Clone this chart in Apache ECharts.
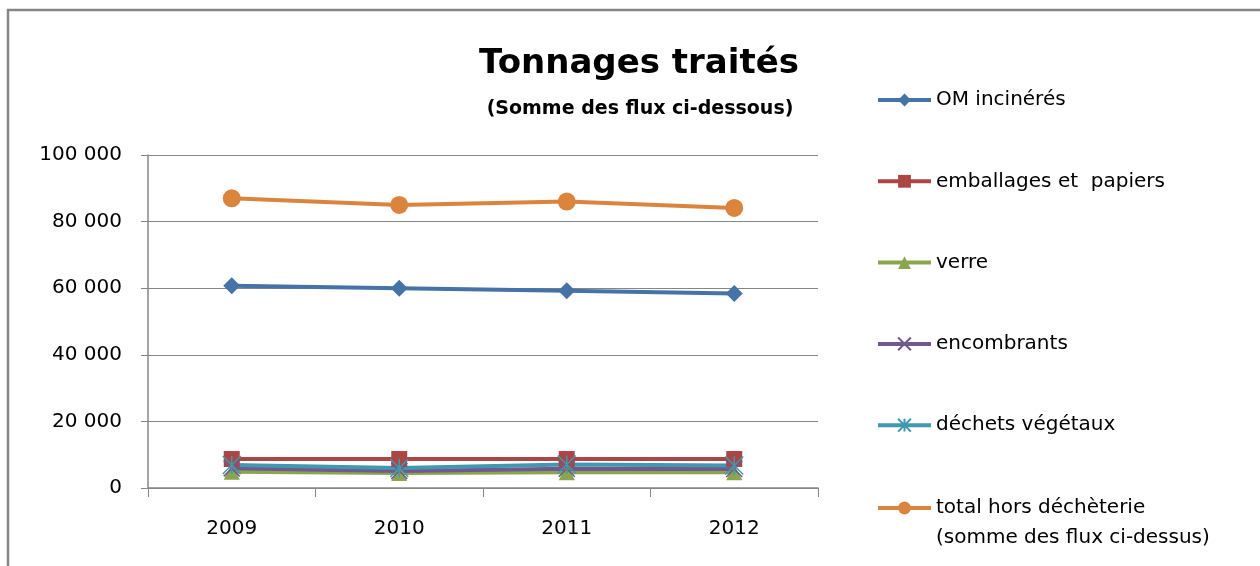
<!DOCTYPE html>
<html>
<head>
<meta charset="utf-8">
<script src="https://cdn.jsdelivr.net/npm/echarts@6/dist/echarts.min.js"></script>
<style>html,body{margin:0;padding:0;background:#fff;}#c{width:1260px;height:566px;}</style>
</head>
<body>
<div id="c"></div>
<script>
var years = ['2009', '2010', '2011', '2012'];
var omIncineres = [60700, 60000, 59200, 58400];
var emballagesPapiers = [8700, 8700, 8700, 8700];
var verre = [4900, 4500, 4750, 4700];
var encombrants = [5900, 5100, 5800, 5700];
var dechetsVegetaux = [6900, 6000, 7050, 6750];
var totalHorsDecheterie = [87000, 85000, 86000, 84100];
var yTicks = [0, 20000, 40000, 60000, 80000, 100000];

var FONT = 'DejaVu Sans';
function fmt(v) { return String(v).replace(/\B(?=(\d{3})+(?!\d))/g, ' '); }

var names = ['OM incinérés', 'emballages et  papiers', 'verre', 'encombrants', 'déchets végétaux', 'total hors déchèterie (somme des flux ci-dessus)'];
var colors = ['#4572A7', '#AA4643', '#89A54E', '#71588F', '#4198AF', '#DB843D'];
var symbols = ['diamond', 'rect', 'triangle',
  'path://M0,0L10,10M10,0L0,10',
  'path://M0,0L10,10M10,0L0,10M5,0L5,10',
  'circle'];
var sizes = [17, 16, 16, 16, 18, 18];
var datas = [omIncineres, emballagesPapiers, verre, encombrants, dechetsVegetaux, totalHorsDecheterie];

var series = names.map(function (n, i) {
  var stroked = (i === 3 || i === 4);
  return {
    name: n,
    type: 'line',
    data: datas[i],
    symbol: symbols[i],
    symbolSize: sizes[i],
    showAllSymbol: true,
    lineStyle: { color: colors[i], width: 4 },
    itemStyle: stroked ? { color: 'rgba(0,0,0,0)', borderColor: colors[i], borderWidth: 1.5 } : { color: colors[i], borderWidth: 0 },
    emphasis: { disabled: true },
    animation: false
  };
});

var legendCommon = {
  orient: 'vertical', left: 876, padding: 0,
  itemWidth: 53, itemHeight: 16, selectedMode: false,
  lineStyle: { width: 4 }
};

var chart = echarts.init(document.getElementById('c'), null, { renderer: 'canvas' });
chart.setOption({
  backgroundColor: '#ffffff',
  animation: false,
  title: [
    { text: 'Tonnages traités', left: 634, top: 42, textAlign: 'center',
      textStyle: { fontFamily: FONT, fontWeight: 'bold', fontSize: 34, color: '#000' } },
    { text: '(Somme des flux ci-dessous)', left: 635, top: 95, textAlign: 'center',
      textStyle: { fontFamily: FONT, fontWeight: 'bold', fontSize: 19, color: '#000' } }
  ],
  legend: [
    Object.assign({}, legendCommon, {
      top: 88, itemGap: 57.3,
      data: names.slice(0, 5),
      textStyle: { fontFamily: FONT, fontSize: 20, color: '#000', lineHeight: 24 }
    }),
    Object.assign({}, legendCommon, {
      top: 463,
      data: [names[5]],
      formatter: function () { return '\ntotal hors déchèterie\n(somme des flux ci-dessus)'; },
      textStyle: { fontFamily: FONT, fontSize: 20, color: '#000', lineHeight: 30 }
    })
  ],
  grid: { left: 148, right: 442, top: 155, bottom: 78, containLabel: false },
  xAxis: {
    type: 'category', data: years, boundaryGap: true,
    axisLine: { lineStyle: { color: '#868686', width: 1.5 } },
    axisTick: { show: true, length: 9, lineStyle: { color: '#868686' } },
    axisLabel: { fontFamily: FONT, fontSize: 20, color: '#000', margin: 31 }
  },
  yAxis: {
    type: 'value', min: 0, max: 100000, interval: 20000,
    axisLine: { show: true, lineStyle: { color: '#868686', width: 1.5 } },
    axisTick: { show: true, length: 7, lineStyle: { color: '#868686' } },
    splitLine: { show: true, lineStyle: { color: '#868686', width: 1 } },
    axisLabel: { fontFamily: FONT, fontSize: 20, color: '#000', margin: 26, formatter: function (v) { return fmt(v); } }
  },
  series: series,
  graphic: [
    { type: 'rect', shape: { x: 8, y: 10, width: 1300, height: 700 }, style: { fill: 'none', stroke: '#868686', lineWidth: 2.5 }, silent: true, z: -1 }
  ]
});
</script>
</body>
</html>
